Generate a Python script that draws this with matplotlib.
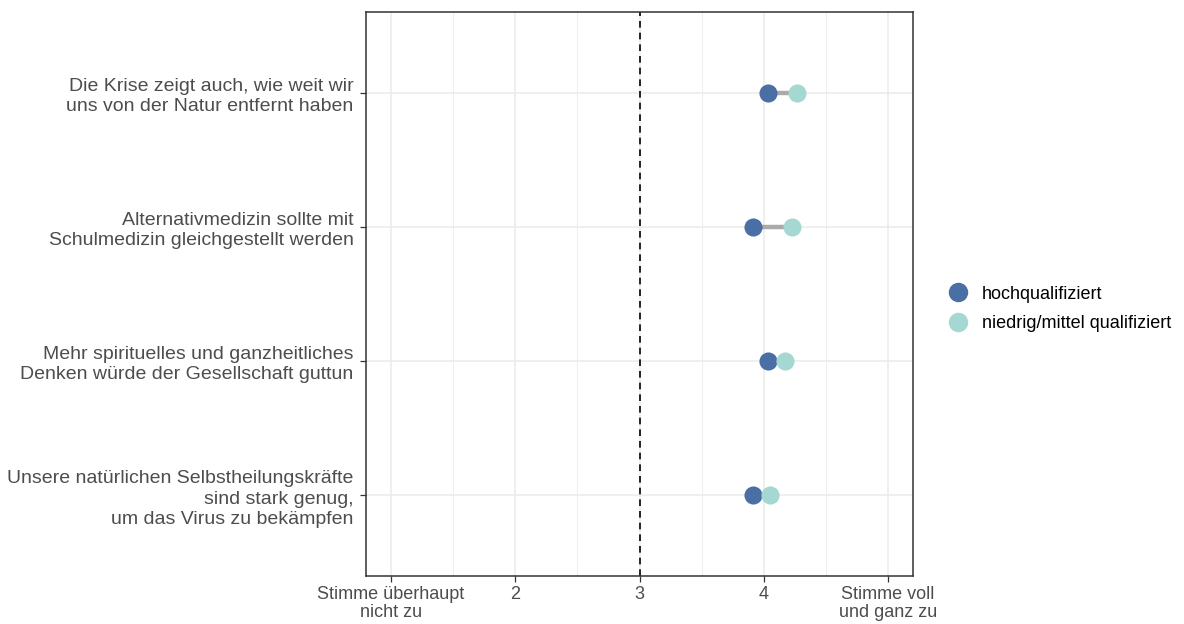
import matplotlib.pyplot as plt
from matplotlib.lines import Line2D

plt.rcParams['font.family'] = ['Liberation Sans', 'DejaVu Sans']

# ---------------------------
# Data
# ---------------------------
items = [
    "Die Krise zeigt auch, wie weit wir\nuns von der Natur entfernt haben",
    "Alternativmedizin sollte mit\nSchulmedizin gleichgestellt werden",
    "Mehr spirituelles und ganzheitliches\nDenken würde der Gesellschaft guttun",
    "Unsere natürlichen Selbstheilungskräfte\nsind stark genug,\num das Virus zu bekämpfen",
]
hoch = [4.03, 3.91, 4.03, 3.91]
niedrig = [4.27, 4.23, 4.17, 4.05]
group_labels = ["hochqualifiziert", "niedrig/mittel qualifiziert"]
x_ticks = [1, 2, 3, 4, 5]
x_ticklabels = ["Stimme überhaupt\nnicht zu", "2", "3", "4", "Stimme voll\nund ganz zu"]

col_hoch = "#4a6fa5"
col_niedrig = "#a5d8d3"
text_col = "#4d4d4d"

fig = plt.figure(figsize=(11.84, 6.24), dpi=100)
ax = fig.add_axes([366 / 1184, 1 - 576 / 624, (913 - 366) / 1184, (576 - 12) / 624])

ypos = list(range(len(items), 0, -1))

# grey connector, then the two dots per item
for y, h, n in zip(ypos, hoch, niedrig):
    ax.plot([h, n], [y, y], color="#aaaaaa", lw=3.2, zorder=2, solid_capstyle="butt")
ax.scatter(hoch, ypos, s=170, color=col_hoch, zorder=3, linewidths=0)
ax.scatter(niedrig, ypos, s=170, color=col_niedrig, zorder=3, linewidths=0)

ax.axvline(3, color="black", ls=(0, (4, 3)), lw=1.2, zorder=1.5)

ax.set_xlim(0.8, 5.2)
ax.set_ylim(0.4, 4.6)
ax.set_xticks(x_ticks)
ax.set_xticklabels(x_ticklabels, fontsize=13, color=text_col, linespacing=1.1)
ax.set_xticks([1.5, 2.5, 3.5, 4.5], minor=True)
ax.set_yticks(ypos)
ax.set_yticklabels(items, fontsize=14, color=text_col, linespacing=1.25)

ax.grid(True, which="major", color="#ebebeb", lw=1.1, zorder=0)
ax.grid(True, which="minor", axis="x", color="#ebebeb", lw=0.6, zorder=0)
ax.set_axisbelow(True)
ax.tick_params(axis="both", which="major", length=4, width=0.9, color="#333333")
ax.tick_params(axis="y", which="major", pad=5)
ax.tick_params(axis="x", which="major", pad=3)
ax.tick_params(axis="x", which="minor", length=0)
for s in ax.spines.values():
    s.set_color("#333333")
    s.set_linewidth(1.1)

# Legend
handles = [
    Line2D([], [], marker="o", ls="", color=col_hoch, markersize=13),
    Line2D([], [], marker="o", ls="", color=col_niedrig, markersize=13),
]
fig.legend(handles, group_labels, loc="center left", bbox_to_anchor=(940 / 1184, 1 - 309 / 624),
           frameon=False, fontsize=13, handletextpad=0.7, labelspacing=0.7,
           handlelength=1.2, borderaxespad=0)

fig.savefig("out.png", dpi=100)
